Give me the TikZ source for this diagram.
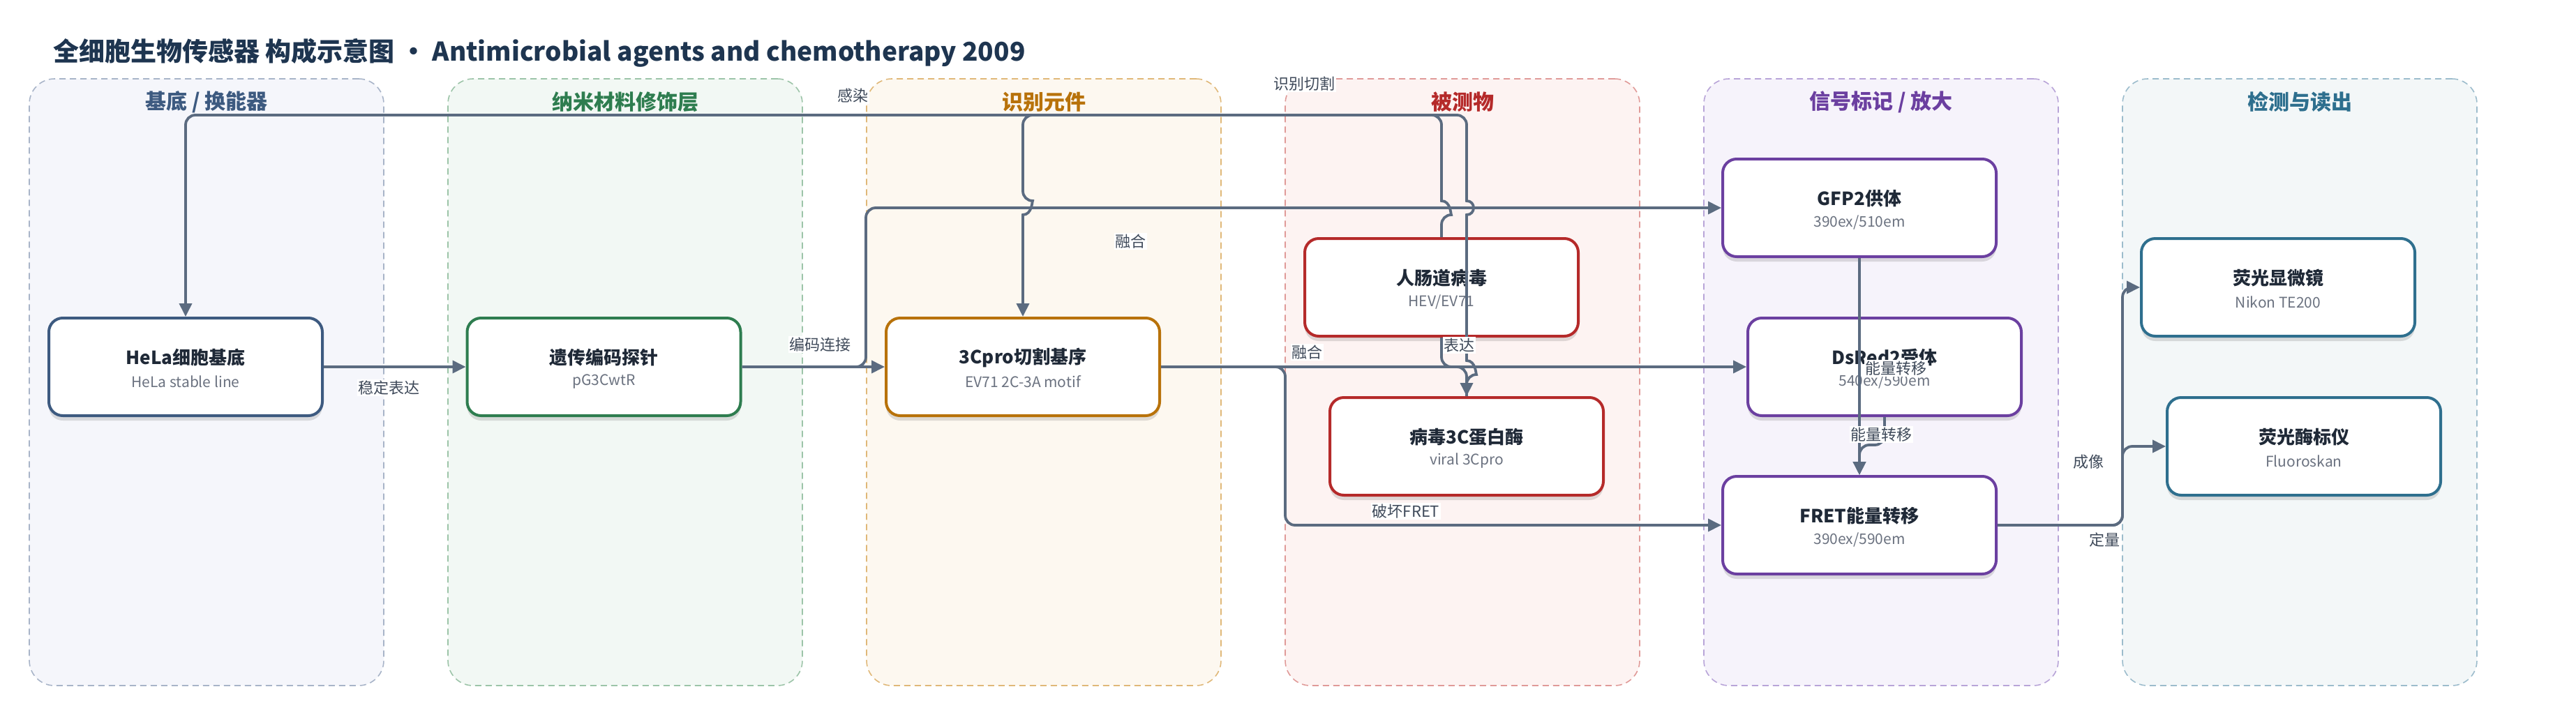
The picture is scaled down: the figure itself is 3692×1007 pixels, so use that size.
\documentclass[tikz,border=0pt]{standalone}
\usepackage{fontspec}
\setmainfont{Noto Sans CJK SC}
\usetikzlibrary{arrows.meta,shadows}

\definecolor{linec}{HTML}{5B6B80}
\definecolor{titlec}{HTML}{1E3550}
\definecolor{nodet}{HTML}{1F2937}
\definecolor{nodes}{HTML}{6B7280}
\definecolor{lblc}{HTML}{3F4A5A}
\definecolor{cA}{HTML}{3D5A80}
\definecolor{cB}{HTML}{2E7D4F}
\definecolor{cC}{HTML}{B8720A}
\definecolor{cD}{HTML}{B52A2A}
\definecolor{cE}{HTML}{6B3FA0}
\definecolor{cF}{HTML}{2E6F8E}
\definecolor{fA}{HTML}{F5F6FB}
\definecolor{fB}{HTML}{F2F8F4}
\definecolor{fC}{HTML}{FDF8F0}
\definecolor{fD}{HTML}{FDF3F2}
\definecolor{fE}{HTML}{F6F3FB}
\definecolor{fF}{HTML}{F3F7F8}
\definecolor{dA}{HTML}{A8B4C8}
\definecolor{dB}{HTML}{9CC4A8}
\definecolor{dC}{HTML}{E0B878}
\definecolor{dD}{HTML}{E09A98}
\definecolor{dE}{HTML}{B8A4D8}
\definecolor{dF}{HTML}{9CBCCC}

\tikzset{
  lanebox/.style={rounded corners=36pt, dash pattern=on 9pt off 6pt, line width=1.6pt,
    minimum width=508pt, minimum height=870pt, inner sep=0pt},
  lanetitle/.style={font=\fontsize{30}{36}\selectfont\bfseries},
  box/.style={draw=#1, line width=4pt, fill=white, rounded corners=20pt,
    minimum width=392pt, minimum height=140pt, inner sep=0pt,
    drop shadow={shadow xshift=0pt, shadow yshift=-7pt, opacity=0.12, fill=black}},
  ntitle/.style={font=\fontsize{26}{30}\selectfont\bfseries, text=nodet, inner sep=0pt},
  nsub/.style={font=\fontsize{21}{25}\selectfont, text=nodes, inner sep=0pt},
  conn/.style={draw=linec, line width=3.8pt, rounded corners=14pt,
    -{Triangle[length=19pt,width=18pt]}},
  lbl/.style={font=\fontsize{22}{26}\selectfont, text=lblc, fill=white, inner sep=1.5pt},
}

\newcommand{\mkbox}[7]{%
  \node[box=#5] (#1) at (#2,#3) {};
  \node[ntitle] (#1-t) at (#2,#3-13) {#6};
  \node[nsub] (#1-s) at (#2,#3+21) {#7};
}

\begin{document}
\begin{tikzpicture}[x=1pt,y=-1pt]
\useasboundingbox (0,0) rectangle (3692,1007);
\fill[white] (0,0) rectangle (3692,1007);

% lanes
\node[lanebox, fill=fA, draw=dA] (lane1) at (296,548) {};
\node[lanebox, fill=fB, draw=dB] (lane2) at (896,548) {};
\node[lanebox, fill=fC, draw=dC] (lane3) at (1496,548) {};
\node[lanebox, fill=fD, draw=dD] (lane4) at (2096,548) {};
\node[lanebox, fill=fE, draw=dE] (lane5) at (2696,548) {};
\node[lanebox, fill=fF, draw=dF] (lane6) at (3296,548) {};

\node[lanetitle, text=cA] (lt1) at (296,146) {基底 / 换能器};
\node[lanetitle, text=cB] (lt2) at (896,146) {纳米材料修饰层};
\node[lanetitle, text=cC] (lt3) at (1496,146) {识别元件};
\node[lanetitle, text=cD] (lt4) at (2096,146) {被测物};
\node[lanetitle, text=cE] (lt5) at (2696,146) {信号标记 / 放大};
\node[lanetitle, text=cF] (lt6) at (3296,146) {检测与读出};

% title
\node[anchor=west, font=\fontsize{37}{44}\selectfont\bfseries, text=titlec, inner sep=0pt] (title) at (76,76)
  {全细胞生物传感器 构成示意图 • Antimicrobial agents and chemotherapy 2009};

% boxes
\mkbox{hela}{266}{526}{392}{cA}{HeLa细胞基底}{HeLa stable line}
\mkbox{pg}{865.5}{526}{392}{cB}{遗传编码探针}{pG3CwtR}
\mkbox{cpro}{1466}{526}{392}{cC}{3Cpro切割基序}{EV71 2C-3A motif}
\mkbox{hev}{2066}{412}{392}{cD}{人肠道病毒}{HEV/EV71}
\mkbox{vir}{2102}{640}{392}{cD}{病毒3C蛋白酶}{viral 3Cpro}
\mkbox{gfp}{2665}{298}{392}{cE}{GFP2供体}{390ex/510em}
\mkbox{dsr}{2701}{526}{392}{cE}{DsRed2受体}{540ex/590em}
\mkbox{fret}{2665}{753}{392}{cE}{FRET能量转移}{390ex/590em}
\mkbox{mic}{3265}{412}{392}{cF}{荧光显微镜}{Nikon TE200}
\mkbox{flu}{3302}{640}{392}{cF}{荧光酶标仪}{Fluoroskan}

% connectors
\draw[conn] (hela.east) -- (pg.west);
\draw[conn] (pg.east) -- (cpro.west);
\draw[conn] (pg.east) -- (1241,526) -- (1241,298) -- (gfp.west);
\draw[conn] (cpro.east) -- (dsr.west);
\draw[conn] (cpro.east) -- (1842,526) -- (1842,753) -- (fret.west);
% 感染
\draw[conn] (hev.north) -- (2066,308) [sharp corners] .. controls (2079.3,308) and (2079.3,288) .. (2066,288)
  [rounded corners=14pt] -- (2066,165) -- (266,165) -- (hela.north);
% 识别切割
\draw[conn] (vir.north) -- (2102,537) [sharp corners] .. controls (2115.3,537) and (2115.3,517) .. (2102,517)
  -- (2102,308) .. controls (2115.3,308) and (2115.3,288) .. (2102,288)
  [rounded corners=14pt] -- (2102,165) -- (1466,165) -- (1466,288)
  [sharp corners] .. controls (1479.3,288) and (1479.3,308) .. (1466,308) -- (cpro.north);
% 表达
\draw[conn] (hev.south) -- (2066,526) -- (2102,526) -- (vir.north);
% 能量转移
\draw[conn] (gfp.south) -- (fret.north);
\draw[conn] (dsr.south) -- (2701,638) -- (2665,638) -- (fret.north);
% readout
\draw[conn] (fret.east) -- (3042,753) -- (3042,412) -- (mic.west);
\draw[conn] (fret.east) -- (3042,753) -- (3042,640) -- (flu.west);

% labels
\node[lbl] (l1) at (557,556) {稳定表达};
\node[lbl] (l2) at (1175,494) {编码连接};
\node[lbl] (l3) at (1620,346) {融合};
\node[lbl] (l4) at (1873,505) {融合};
\node[lbl] (l5) at (2015,733) {破坏FRET};
\node[lbl] (l6) at (1222,137) {感染};
\node[lbl] (l7) at (1869,120) {识别切割};
\node[lbl] (l8) at (2091,495) {表达};
\node[lbl] (l9) at (2717,528) {能量转移};
\node[lbl] (l10) at (2696,623) {能量转移};
\node[lbl] (l11) at (2993,662) {成像};
\node[lbl] (l12) at (3016,774) {定量};
\end{tikzpicture}
\end{document}
